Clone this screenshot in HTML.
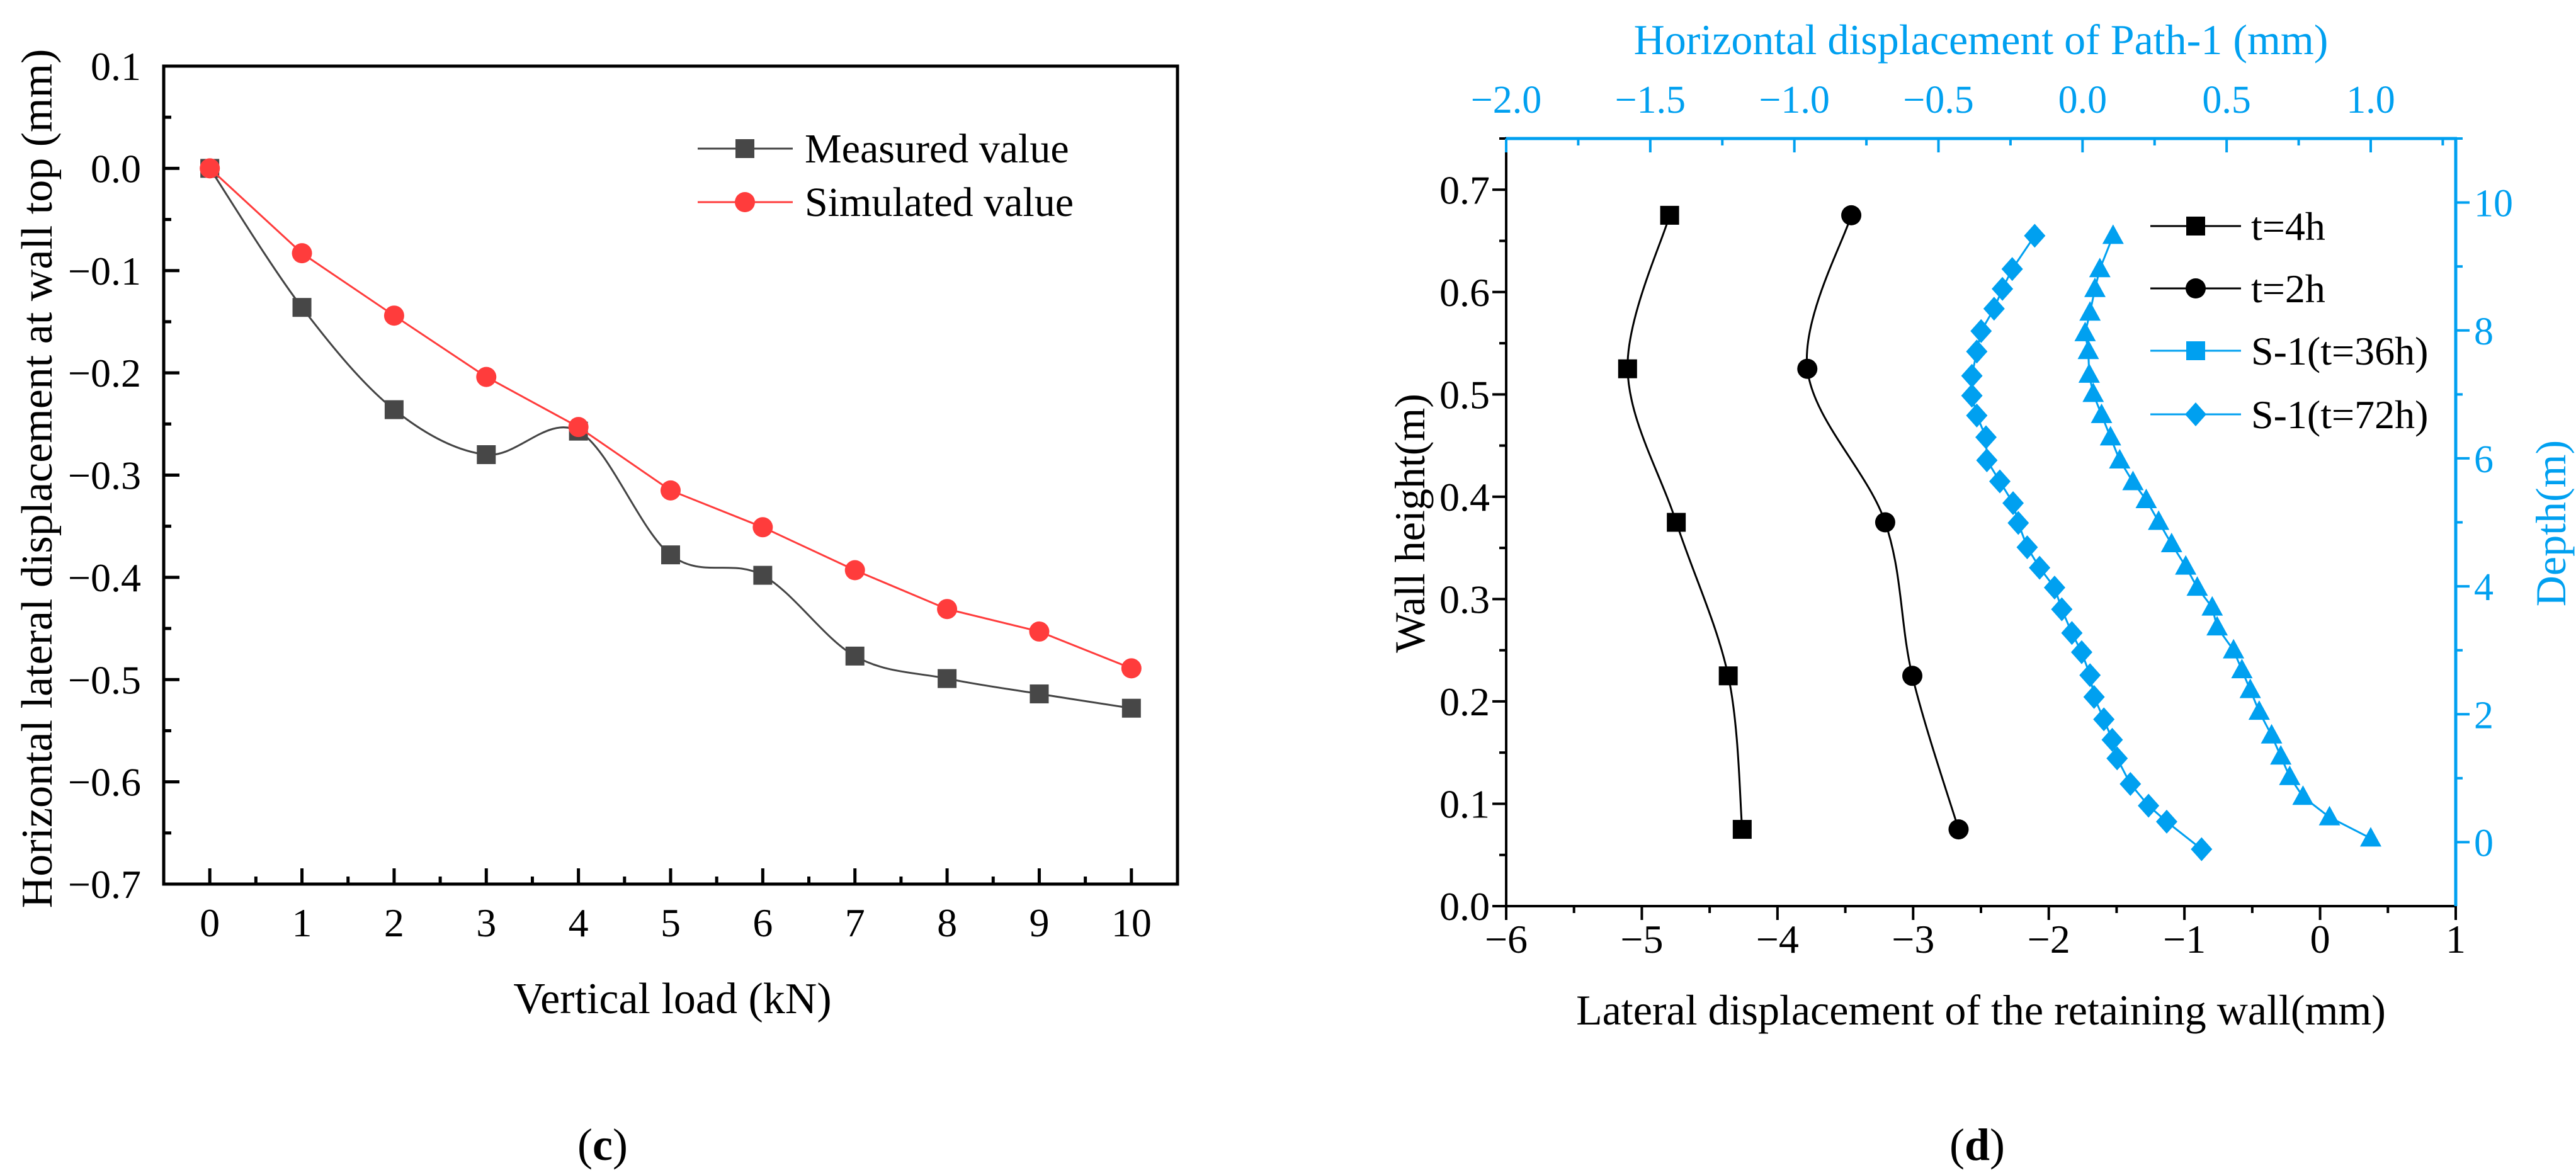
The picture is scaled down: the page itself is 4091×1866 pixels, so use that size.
<!DOCTYPE html>
<html><head><meta charset="utf-8"><style>
html,body{margin:0;padding:0;background:#fff;}
svg{display:block;font-family:"Liberation Serif","DejaVu Serif",serif;}
</style></head><body>
<svg id="fig" width="4091" height="1866" viewBox="0 0 4091 1866" xmlns="http://www.w3.org/2000/svg">
<g id="c1"></g>
<g id="c2"></g>
</svg>
<script>
// ---- Chart (c) data ----
const loadCats = [0,1,2,3,4,5,6,7,8,9,10];
const measuredVals = [0,-0.136,-0.236,-0.280,-0.257,-0.378,-0.398,-0.477,-0.499,-0.514,-0.528];
const simulatedVals = [0,-0.083,-0.144,-0.204,-0.253,-0.315,-0.351,-0.393,-0.431,-0.453,-0.489];
const cYTicks = [0.1,0.0,-0.1,-0.2,-0.3,-0.4,-0.5,-0.6,-0.7];
const cXTicks = [0,1,2,3,4,5,6,7,8,9,10];
// ---- Chart (d) data ----
const wallH = [0.675,0.525,0.375,0.225,0.075];
const t4hX = [-4.795,-5.105,-4.746,-4.363,-4.26];
const t2hX = [-3.456,-3.78,-3.206,-3.006,-2.665];
const s72X = [-0.166,-0.244,-0.278,-0.307,-0.352,-0.367,-0.384,-0.384,-0.367,-0.335,-0.332,-0.287,-0.241,-0.223,-0.192,-0.149,-0.097,-0.072,-0.037,-0.003,0.026,0.040,0.074,0.103,0.120,0.166,0.229,0.292,0.413];
const s72D = [9.48,8.96,8.65,8.34,7.99,7.67,7.29,6.98,6.67,6.33,5.97,5.64,5.30,4.99,4.61,4.29,3.98,3.64,3.27,2.97,2.61,2.27,1.92,1.60,1.31,0.91,0.57,0.32,-0.11];
const s36X = [0.106,0.060,0.043,0.026,0.009,0.020,0.023,0.037,0.066,0.097,0.129,0.175,0.221,0.264,0.309,0.358,0.398,0.450,0.467,0.524,0.553,0.582,0.613,0.656,0.688,0.719,0.765,0.857,1.0];
const s36D = [9.48,8.96,8.65,8.28,7.96,7.68,7.31,7.01,6.68,6.33,5.97,5.63,5.35,5.01,4.66,4.31,3.98,3.67,3.36,3.00,2.69,2.38,2.04,1.67,1.34,1.02,0.71,0.39,0.06];
const dBottomTicks = [-6,-5,-4,-3,-2,-1,0,1];
const dLeftTicks = [0.0,0.1,0.2,0.3,0.4,0.5,0.6,0.7];
const dTopTicks = [-2.0,-1.5,-1.0,-0.5,0.0,0.5,1.0];
const dRightTicks = [0,2,4,6,8,10];

const NS="http://www.w3.org/2000/svg";
function mk(parent,tag,attrs,text){const e=document.createElementNS(NS,tag);for(const k in attrs)e.setAttribute(k,attrs[k]);if(text!==undefined)e.textContent=text;parent.appendChild(e);return e;}
function fmt(v,d){const s=Math.abs(v).toFixed(d);return (v<-1e-9?"\u2212":"")+s;}
function spline(pts){let d="M"+pts[0][0]+","+pts[0][1];for(let i=0;i<pts.length-1;i++){const p0=pts[i-1]||pts[i],p1=pts[i],p2=pts[i+1],p3=pts[i+2]||p2;const c1=[p1[0]+(p2[0]-p0[0])/6,p1[1]+(p2[1]-p0[1])/6],c2=[p2[0]-(p3[0]-p1[0])/6,p2[1]-(p3[1]-p1[1])/6];d+=" C"+c1[0]+","+c1[1]+" "+c2[0]+","+c2[1]+" "+p2[0]+","+p2[1];}return d;}
function poly(pts){return "M"+pts.map(p=>p[0]+","+p[1]).join(" L");}

// ===== Chart (c) =====
(function(){
const g=document.getElementById('c1');
const L=260,R=1870,T=105,B=1404;
const xs=v=>L+(v+0.5)/11*(R-L);
const ys=v=>T+(0.1-v)/0.8*(B-T);
const ax=mk(g,'rect',{x:L,y:T,width:R-L,height:B-T,fill:'none',stroke:'#000','stroke-width':5});

cYTicks.forEach(v=>{
  const y=ys(v);
  const t=mk(g,'line',{x1:L,x2:L+25,y1:y,y2:y,stroke:'#000','stroke-width':5});
  
  const lb=mk(g,'text',{x:224,y:y+22,'text-anchor':'end','font-size':64},fmt(v,1));
  
});
for(let i=0;i<cYTicks.length-1;i++){const y=ys((cYTicks[i]+cYTicks[i+1])/2);const t=mk(g,'line',{x1:L,x2:L+12,y1:y,y2:y,stroke:'#000','stroke-width':5});}
cXTicks.forEach((v,i)=>{
  const x=xs(v);
  const t=mk(g,'line',{x1:x,x2:x,y1:B,y2:B-25,stroke:'#000','stroke-width':5});
  
  if(i<cXTicks.length-1){const m=mk(g,'line',{x1:xs(v+0.5),x2:xs(v+0.5),y1:B,y2:B-12,stroke:'#000','stroke-width':5});}
  const lb=mk(g,'text',{x:x,y:1487,'text-anchor':'middle','font-size':64},String(v));
  
});
const xt=mk(g,'text',{x:1068,y:1609,'text-anchor':'middle','font-size':70},'Vertical load (kN)');

const yt=mk(g,'text',{x:0,y:0,'text-anchor':'middle','font-size':70,transform:'translate(82,760) rotate(-90)'},'Horizontal lateral displacement at wall top (mm)');

const cap=mk(g,'text',{x:957,y:1842,'text-anchor':'middle','font-size':72},'(');
cap.innerHTML='(<tspan font-weight="bold">c</tspan>)';

// series
const mp=loadCats.map((c,i)=>[xs(c),ys(measuredVals[i])]);
const sp=loadCats.map((c,i)=>[xs(c),ys(simulatedVals[i])]);
const ml=mk(g,'path',{d:spline(mp),fill:'none',stroke:'#444','stroke-width':3});

mp.forEach(p=>{const r=mk(g,'rect',{x:p[0]-15,y:p[1]-15,width:30,height:30,fill:'#474747'});});
const sl=mk(g,'path',{d:poly(sp),fill:'none',stroke:'#ff3c3c','stroke-width':3});

sp.forEach(p=>{const c=mk(g,'circle',{cx:p[0],cy:p[1],r:16,fill:'#ff3c3c'});});
// legend
const l1=mk(g,'line',{x1:1108,x2:1259,y1:236,y2:236,stroke:'#444','stroke-width':3});
const l1m=mk(g,'rect',{x:1168,y:221,width:30,height:30,fill:'#474747'});
const l1t=mk(g,'text',{x:1278,y:258,'font-size':66},'Measured value');
const l2=mk(g,'line',{x1:1108,x2:1259,y1:321,y2:321,stroke:'#ff3c3c','stroke-width':3});
const l2m=mk(g,'circle',{cx:1183,cy:321,r:16,fill:'#ff3c3c'});
const l2t=mk(g,'text',{x:1278,y:343,'font-size':66},'Simulated value');
})();

// ===== Chart (d) =====
(function(){
const g=document.getElementById('c2');
const L=2392,R=3900,T=220,B=1439;
const BL='#00a0f0';
const xb=v=>L+(v+6)/7*(R-L);
const yl=v=>B-(v/0.75)*(B-T);
const xt=v=>L+(v+2)/3.295*(R-L);
const yr=v=>B-(v+1)/12*(B-T);
// left axis black, bottom black
const la=mk(g,'line',{x1:L,x2:L,y1:B,y2:T,stroke:'#000','stroke-width':4});
const ba=mk(g,'line',{x1:L,x2:R,y1:B,y2:B,stroke:'#000','stroke-width':4});
const ta=mk(g,'line',{x1:L-2,x2:R+2,y1:T,y2:T,stroke:BL,'stroke-width':5});
const ra=mk(g,'line',{x1:R,x2:R,y1:T,y2:B,stroke:BL,'stroke-width':5});
dBottomTicks.forEach((v,i)=>{const x=xb(v);
 const t=mk(g,'line',{x1:x,x2:x,y1:B,y2:B+22,stroke:'#000','stroke-width':4});
 if(i<dBottomTicks.length-1){const m=mk(g,'line',{x1:xb(v+0.5),x2:xb(v+0.5),y1:B,y2:B+11,stroke:'#000','stroke-width':4});}
 const lb=mk(g,'text',{x:x,y:1513,'text-anchor':'middle','font-size':64},fmt(v,0));});
dLeftTicks.forEach((v,i)=>{const y=yl(v);
 const t=mk(g,'line',{x1:L,x2:L-22,y1:y,y2:y,stroke:'#000','stroke-width':4});
 const m=mk(g,'line',{x1:L,x2:L-11,y1:yl(v+0.05),y2:yl(v+0.05),stroke:'#000','stroke-width':4});
 const lb=mk(g,'text',{x:2366,y:y+22,'text-anchor':'end','font-size':64},v.toFixed(1));});
dTopTicks.forEach((v,i)=>{const x=xt(v);
 const t=mk(g,'line',{x1:x,x2:x,y1:T,y2:T+22,stroke:BL,'stroke-width':4});
 const m=mk(g,'line',{x1:xt(v+0.25),x2:xt(v+0.25),y1:T,y2:T+11,stroke:BL,'stroke-width':4});
 const lb=mk(g,'text',{x:x,y:179,'text-anchor':'middle','font-size':62,fill:BL},fmt(v,1));});
dRightTicks.forEach((v,i)=>{const y=yr(v);
 const t=mk(g,'line',{x1:R,x2:R+22,y1:y,y2:y,stroke:BL,'stroke-width':4});
 const m=mk(g,'line',{x1:R,x2:R+11,y1:yr(v+1),y2:yr(v+1),stroke:BL,'stroke-width':4});
 const lb=mk(g,'text',{x:3929,y:y+22,'font-size':62,fill:BL},String(v));});
const m0=mk(g,'line',{x1:R,x2:R+11,y1:yr(-1+0.001)-0,y2:yr(-1),stroke:BL,'stroke-width':0});
// titles
const t1=mk(g,'text',{x:3146,y:86,'text-anchor':'middle','font-size':68,fill:BL},'Horizontal displacement of Path-1 (mm)');
const t2=mk(g,'text',{x:3146,y:1627,'text-anchor':'middle','font-size':68},'Lateral displacement of the retaining wall(mm)');
const t3=mk(g,'text',{x:0,y:0,'text-anchor':'middle','font-size':68,transform:'translate(2262,831) rotate(-90)'},'Wall height(m)');
const t4=mk(g,'text',{x:0,y:0,'text-anchor':'middle','font-size':68,fill:BL,transform:'translate(4074,831) rotate(-90)'},'Depth(m)');
const cap=mk(g,'text',{x:3140,y:1842,'text-anchor':'middle','font-size':72});
cap.innerHTML='(<tspan font-weight="bold">d</tspan>)';

// black series
const p4=wallH.map((h,i)=>[xb(t4hX[i]),yl(h)]);
const p2=wallH.map((h,i)=>[xb(t2hX[i]),yl(h)]);
const a=mk(g,'path',{d:spline(p4),fill:'none',stroke:'#000','stroke-width':3});
p4.forEach(p=>{const r=mk(g,'rect',{x:p[0]-15,y:p[1]-15,width:30,height:30,fill:'#000'});});
const b=mk(g,'path',{d:spline(p2),fill:'none',stroke:'#000','stroke-width':3});
p2.forEach(p=>{const c=mk(g,'circle',{cx:p[0],cy:p[1],r:16,fill:'#000'});});
// blue series
const q72=s72X.map((v,i)=>[xt(v),yr(s72D[i])]);
const q36=s36X.map((v,i)=>[xt(v),yr(s36D[i])]);
const c1=mk(g,'path',{d:poly(q72),fill:'none',stroke:BL,'stroke-width':3});
q72.forEach(p=>{const d=mk(g,'polygon',{points:`${p[0]},${p[1]-19} ${p[0]+17},${p[1]} ${p[0]},${p[1]+19} ${p[0]-17},${p[1]}`,fill:BL});});
const c2=mk(g,'path',{d:poly(q36),fill:'none',stroke:BL,'stroke-width':3});
q36.forEach(p=>{const d=mk(g,'polygon',{points:`${p[0]},${p[1]-18} ${p[0]+17},${p[1]+13} ${p[0]-17},${p[1]+13}`,fill:BL});});
// legend
const ly=[359,458,557,658], labs=['t=4h','t=2h','S-1(t=36h)','S-1(t=72h)'], cols=['#000','#000',BL,BL];
ly.forEach((y,i)=>{
 const l=mk(g,'line',{x1:3415,x2:3559,y1:y,y2:y,stroke:cols[i],'stroke-width':3});
 let m;
 if(i===0||i===2){m=mk(g,'rect',{x:3472,y:y-15,width:30,height:30,fill:cols[i]});}
 else if(i===1){m=mk(g,'circle',{cx:3487,cy:y,r:16,fill:cols[i]});}
 else{m=mk(g,'polygon',{points:`3487,${y-19} 3504,${y} 3487,${y+19} 3470,${y}`,fill:cols[i]});}
 
 const t=mk(g,'text',{x:3575,y:y+22,'font-size':64},labs[i]);
});
})();
</script>
</body></html>
